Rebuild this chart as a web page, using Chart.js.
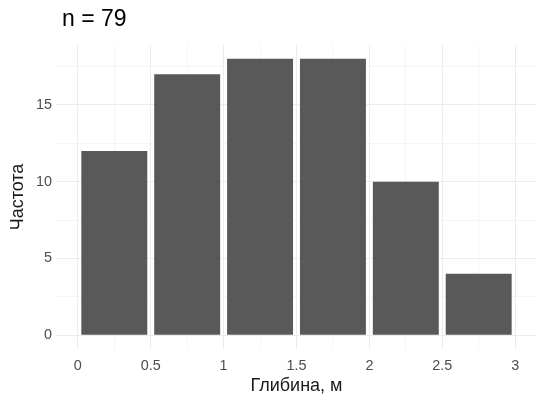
<!DOCTYPE html>
<html>
<head>
<meta charset="utf-8">
<script src="https://cdn.jsdelivr.net/npm/chart.js@4.4.1/dist/chart.umd.min.js"></script>
<style>
  html, body { margin: 0; padding: 0; background: #fff; }
  #wrap { width: 537px; height: 401px; }
</style>
</head>
<body>
<div id="wrap"><canvas id="hist"></canvas></div>
<script>
// histogram bins (depth, m) and counts
const binCenters = [0.25, 0.75, 1.25, 1.75, 2.25, 2.75];
const counts = [12, 17, 18, 18, 10, 4];
const xTicks = [0, 0.5, 1, 1.5, 2, 2.5, 3];
const yTicks = [0, 5, 10, 15];
const titleText = 'n = 79';

const FONT = "'Liberation Sans', Arial, sans-serif";

// major + minor grid positions
function withMinor(major) {
  let out = [];
  for (let i = 0; i < major.length; i++) {
    out.push(major[i]);
    if (i < major.length - 1) out.push((major[i] + major[i + 1]) / 2);
  }
  return out;
}
function isMajor(list, v) {
  return list.some(t => Math.abs(t - v) < 1e-9);
}
// extra minor line above the last y tick
const yGrid = withMinor(yTicks).concat([17.5]);
const xGrid = withMinor(xTicks);

function gridColor(list) {
  return c => {
    if (!c.tick) return '#eeeeee';
    return isMajor(list, c.tick.value) ? '#ececec' : '#f5f5f5';
  };
}

const titlePlugin = {
  id: 'nTitle',
  afterDraw(chart) {
    const c = chart.ctx;
    c.save();
    c.font = '23px ' + FONT;
    c.fillStyle = '#000';
    c.textBaseline = 'middle';
    c.textAlign = 'left';
    c.fillText(titleText, 62, 20);
    c.restore();
  }
};

var ctx = document.getElementById('hist').getContext('2d');
var myChart = new Chart(ctx, {
  type: 'bar',
  data: {
    datasets: [{
      data: binCenters.map((x, i) => ({ x: x, y: counts[i] })),
      backgroundColor: '#595959',
      borderWidth: 0,
      // minor ticks sit every 0.25, so the ruler is half a bin wide
      barPercentage: 1.81,
      categoryPercentage: 1
    }]
  },
  options: {
    responsive: true,
    maintainAspectRatio: false,
    animation: false,
    layout: { padding: { top: 45, left: 0, right: 0, bottom: 0 } },
    plugins: {
      legend: { display: false },
      tooltip: { enabled: false }
    },
    scales: {
      x: {
        type: 'linear',
        min: -0.15,
        max: 3.15,
        offset: false,
        afterBuildTicks: s => { s.ticks = xGrid.map(v => ({ value: v })); },
        afterFit: s => { s.height = 52; },
        border: { display: false },
        grid: {
          offset: false,
          drawTicks: false,
          color: gridColor(xTicks),
          lineWidth: 1
        },
        ticks: {
          autoSkip: false,
          maxRotation: 0,
          padding: 8,
          color: '#4d4d4d',
          font: { family: FONT, size: 14.4 },
          callback: v => isMajor(xTicks, v) ? String(v) : ''
        },
        title: {
          display: true,
          text: 'Глибина, м',
          color: '#1a1a1a',
          font: { family: FONT, size: 18 },
          padding: { top: 0, bottom: 4 }
        }
      },
      y: {
        min: -0.9,
        max: 18.9,
        afterBuildTicks: s => { s.ticks = yGrid.map(v => ({ value: v })); },
        afterFit: s => { s.width = 56; },
        border: { display: false },
        grid: {
          drawTicks: false,
          color: gridColor(yTicks),
          lineWidth: 1
        },
        ticks: {
          autoSkip: false,
          padding: 4,
          color: '#4d4d4d',
          font: { family: FONT, size: 14.4 },
          callback: v => isMajor(yTicks, v) ? String(v) : ''
        },
        title: {
          display: true,
          text: 'Частота',
          color: '#1a1a1a',
          font: { family: FONT, size: 18 },
          padding: { top: 7, bottom: 0 }
        }
      }
    }
  },
  plugins: [titlePlugin]
});
</script>
</body>
</html>
